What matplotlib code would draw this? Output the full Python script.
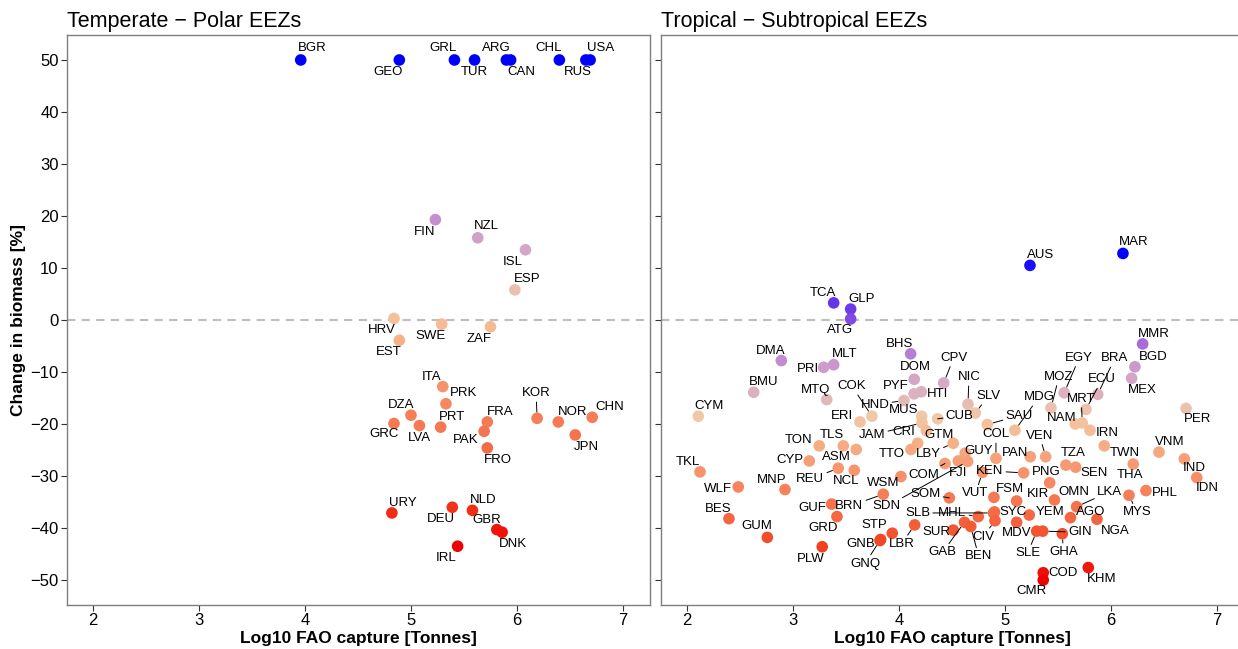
import numpy as np
import matplotlib
matplotlib.use("Agg")
import matplotlib.pyplot as plt
from matplotlib.colors import LinearSegmentedColormap, Normalize

plt.rcParams["font.family"] = ["Liberation Sans", "DejaVu Sans"]

# ---- temperate / polar EEZs ----
tp_code = ["BGR", "GEO", "GRL", "TUR", "ARG", "CAN", "CHL", "RUS", "USA",
           "FIN", "NZL", "ISL", "ESP", "HRV", "SWE", "ZAF", "EST",
           "ITA", "PRK", "DZA", "GRC", "LVA", "PRT", "FRA", "PAK", "FRO",
           "KOR", "NOR", "CHN", "JPN",
           "URY", "DEU", "NLD", "GBR", "DNK", "IRL"]
tp_capture = [3.96, 4.89, 5.41, 5.60, 5.90, 5.94, 6.40, 6.65, 6.69,
              5.23, 5.63, 6.08, 5.98, 4.84, 5.29, 5.75, 4.89,
              5.30, 5.33, 5.00, 4.84, 5.08, 5.28, 5.72, 5.69, 5.72,
              6.19, 6.39, 6.71, 6.55,
              4.82, 5.39, 5.58, 5.81, 5.86, 5.44]
tp_change = [50.0, 50.0, 50.0, 50.0, 50.0, 50.0, 50.0, 50.0, 50.0,
             19.3, 15.8, 13.5, 5.8, 0.3, -0.8, -1.3, -3.9,
             -12.8, -16.1, -18.3, -19.9, -20.3, -20.6, -19.6, -21.4, -24.6,
             -18.9, -19.6, -18.7, -22.1,
             -37.1, -36.0, -36.6, -40.3, -40.8, -43.5]

# ---- tropical / subtropical EEZs ----
tr_code = ["AUS", "MAR", "TCA", "GLP", "ATG", "MMR", "BGD", "MEX", "BHS", "DMA",
           "MLT", "PRI", "BMU", "MTQ", "CYM", "DOM", "PYF", "HTI", "HND", "COK",
           "ERI", "CPV", "NIC", "SLV", "CUB", "MUS", "JAM", "CRI", "GTM", "TTO",
           "LBY", "GUY", "FJI", "SDN", "COM", "KEN", "VUT", "PAN", "VEN", "COL",
           "SAU", "MDG", "EGY", "MOZ", "BRA", "ECU", "MRT", "NAM", "IRN", "PER",
           "TWN", "VNM", "IND", "IDN", "THA", "TZA", "SEN", "PNG", "FSM", "KIR",
           "OMN", "LKA", "MYS", "PHL", "AGO", "NGA", "YEM", "SYC", "SLB", "MHL",
           "CIV", "MDV", "SUR", "GAB", "BEN", "SLE", "GIN", "GHA", "COD", "CMR",
           "KHM", "SOM", "WSM", "BRN", "GUF", "GRD", "STP", "LBR", "GNB", "GNQ",
           "PLW", "GUM", "BES", "WLF", "TKL", "MNP", "CYP", "TON", "TLS", "ASM",
           "REU", "NCL"]
tr_capture = [5.236, 6.113, 3.384, 3.544, 3.544, 6.299, 6.226, 6.195, 4.110, 2.890,
              3.384, 3.290, 2.629, 3.318, 2.107, 4.144, 4.142, 4.210, 4.047, 3.745,
              3.632, 4.422, 4.651, 4.720, 4.365, 4.214, 4.217, 4.176, 4.258, 4.113,
              4.512, 4.625, 4.560, 4.648, 4.434, 5.176, 4.788, 5.239, 5.384, 4.915,
              4.833, 5.094, 5.559, 5.434, 5.875, 5.764, 5.729, 5.663, 5.802, 6.708,
              5.937, 6.453, 6.692, 6.809, 6.210, 5.575, 5.667, 5.422, 4.896, 5.110,
              5.467, 5.676, 6.170, 6.330, 5.618, 5.868, 5.229, 4.901, 4.892, 4.748,
              4.906, 5.110, 4.512, 4.618, 4.677, 5.299, 5.356, 5.541, 5.361, 5.361,
              5.786, 4.475, 4.019, 3.852, 3.365, 3.415, 3.937, 4.148, 3.827, 3.821,
              3.276, 2.758, 2.396, 2.484, 2.123, 2.925, 3.154, 3.248, 3.475, 3.597,
              3.427, 3.578]
tr_change = [10.5, 12.8, 3.3, 2.1, 0.2, -4.6, -9.0, -11.2, -6.5, -7.8,
             -8.6, -9.1, -13.9, -15.3, -18.5, -11.4, -14.2, -13.8, -15.5, -18.5,
             -19.6, -12.1, -16.2, -17.9, -19.0, -18.5, -19.8, -23.7, -21.3, -24.9,
             -23.7, -25.6, -27.1, -27.2, -27.6, -29.4, -29.3, -26.3, -26.3, -26.6,
             -20.1, -21.2, -14.0, -16.9, -14.3, -17.2, -19.8, -20.0, -21.2, -17.0,
             -24.2, -25.4, -26.7, -30.3, -27.7, -27.9, -28.3, -31.3, -34.1, -34.8,
             -34.6, -35.9, -33.7, -32.8, -38.0, -38.3, -37.5, -36.9, -37.1, -37.8,
             -38.6, -38.9, -40.4, -38.9, -39.7, -40.6, -40.6, -41.1, -48.6, -50.0,
             -47.6, -34.2, -30.1, -33.5, -35.4, -37.8, -41.0, -39.4, -42.2, -42.4,
             -43.6, -41.8, -38.2, -32.1, -29.2, -32.6, -27.1, -24.2, -24.2, -24.9,
             -28.5, -28.9]

# label placement: pixel offset of each label from its point (right, down)
LABEL_OFF = {
    "BGR": (12, -12), "GEO": (-11, 12), "GRL": (-11, -12), "TUR": (0, 12),
    "ARG": (-10, -12), "CAN": (11, 12), "CHL": (-11, -12), "RUS": (-8, 12),
    "USA": (11, -12), "FIN": (-11, 12), "NZL": (9, -12), "ISL": (-13, 12),
    "ESP": (12, -11), "HRV": (-12, 12), "SWE": (-11, 12), "ZAF": (-11, 12),
    "EST": (-11, 12), "ITA": (-11, -10), "PRK": (18, -11), "DZA": (-10, -10),
    "GRC": (-10, 11), "LVA": (0, 12), "PRT": (11, -10), "FRA": (13, -10),
    "PAK": (-18, 9), "FRO": (11, 12), "KOR": (-1, -25), "NOR": (14, -10),
    "CHN": (18, -10), "JPN": (11, 12), "URY": (11, -10), "DEU": (-11, 12),
    "NLD": (11, -10), "GBR": (-10, -10), "DNK": (11, 12), "IRL": (-11, 12),
    "AUS": (11, -10), "MAR": (11, -11), "TCA": (-11, -10), "GLP": (11, -10),
    "ATG": (-11, 11), "MMR": (11, -10), "BGD": (18, -10), "MEX": (11, 12),
    "BHS": (-11, -10), "DMA": (-11, -10), "MLT": (11, -11), "PRI": (-16, 2),
    "BMU": (10, -10), "MTQ": (-11, -10), "CYM": (11, -10), "DOM": (1, -12),
    "PYF": (-18, -8), "HTI": (16, 2), "HND": (-29, 4), "COK": (-20, -30),
    "ERI": (-18, -6), "CPV": (10, -25), "NIC": (1, -27), "SLV": (13, -17),
    "CUB": (22, -3), "MUS": (-18, -6), "JAM": (-50, 12), "CRI": (-14, -11),
    "GTM": (13, 4), "TTO": (-19, 5), "LBY": (-25, 11), "GUY": (13, -2),
    "FJI": (0, 12), "SDN": (-81, 45), "COM": (-21, 11), "KEN": (-34, -2),
    "VUT": (-7, 21), "PAN": (-15, -4), "VEN": (-6, -21), "COL": (0, -24),
    "SAU": (32, -9), "MDG": (24, -33), "EGY": (15, -35), "MOZ": (8, -31),
    "BRA": (17, -36), "ECU": (16, -30), "MRT": (-1, -24), "NAM": (-14, -6),
    "IRN": (17, 3), "PER": (12, 11), "TWN": (21, 7), "VNM": (11, -10),
    "IND": (10, 9), "IDN": (11, 10), "THA": (-3, 11), "TZA": (7, -12),
    "SEN": (18, 6), "PNG": (-3, -11), "FSM": (16, -8), "KIR": (21, -7),
    "OMN": (19, -8), "LKA": (33, -15), "MYS": (8, 17), "PHL": (19, 2),
    "AGO": (20, -6), "NGA": (18, 12), "YEM": (21, -3), "SYC": (19, 0),
    "SLB": (-76, 0), "MHL": (-26, -4), "CIV": (-12, 16), "MDV": (0, 11),
    "SUR": (-17, 2), "GAB": (-22, 30), "BEN": (8, 30), "SLE": (-9, 22),
    "GIN": (37, 1), "GHA": (1, 18), "COD": (20, 0), "CMR": (-12, 11),
    "KHM": (13, 11), "SOM": (-24, -4), "WSM": (-18, 6), "BRN": (-34, 12),
    "GUF": (-19, 4), "GRD": (-14, 11), "STP": (-18, -8), "LBR": (-13, 19),
    "GNB": (-20, 5), "GNQ": (-15, 23), "PLW": (-11, 12), "GUM": (-11, -11),
    "BES": (-11, -10), "WLF": (-20, 2), "TKL": (-12, -10), "MNP": (-13, -10),
    "CYP": (-19, -1), "TON": (-21, -6), "TLS": (-11, -11), "ASM": (-20, 8),
    "REU": (-28, 11), "NCL": (-8, 11),
}

# red -> peach -> purple -> blue, stretched over each panel's own range
CMAP = LinearSegmentedColormap.from_list("biomass", [
    (0.00, "#F00000"), (0.10, "#F2401F"), (0.20, "#F46A45"), (0.33, "#F7936C"),
    (0.42, "#F6B088"), (0.50, "#F2C9A6"), (0.57, "#DDB2BD"), (0.65, "#CE9DCB"),
    (0.70, "#B47AD6"), (0.75, "#9B5EDC"), (0.82, "#7440E6"), (0.90, "#4B26F0"),
    (1.00, "#0000FF")])

W, H = 1238, 649
fig = plt.figure(figsize=(W / 100, H / 100), dpi=100)
ax_l = fig.add_axes([67 / W, 44 / H, 583 / W, 570 / H])
ax_r = fig.add_axes([661 / W, 44 / H, 583 / W, 570 / H])


def label_gap(dx, dy):
    # rough distance between a 3-letter label box and its point, in pixels
    return np.hypot(max(abs(dx) - 14, 0), max(abs(dy) - 7, 0))


def panel(ax, codes, cap, chg, title, ylabels):
    norm = Normalize(min(chg), max(chg))
    ax.axhline(0, color="#BDBDBD", ls=(0, (4, 3)), lw=1.5, zorder=1)
    ax.scatter(cap, chg, s=70, c=[CMAP(norm(v)) for v in chg], edgecolors="none", zorder=3)
    for code, x, y in zip(codes, cap, chg):
        dx, dy = LABEL_OFF[code]
        arrow = None
        if label_gap(dx, dy) > 7.5:
            arrow = dict(arrowstyle="-", color="black", lw=0.7, shrinkA=0, shrinkB=4.5)
        ax.annotate(code, (x, y), xytext=(dx, -dy), textcoords="offset pixels",
                    ha="center", va="center", fontsize=9.5, color="black",
                    arrowprops=arrow, zorder=4)
    ax.set_xlim(1.755, 7.255)
    ax.set_ylim(-54.8, 54.8)
    ax.set_xticks([2, 3, 4, 5, 6, 7])
    ax.set_yticks(np.arange(-50, 51, 10))
    if not ylabels:
        ax.set_yticklabels([])
    ax.tick_params(length=4, pad=2, color="#333333", labelsize=12, labelcolor="black")
    for s in ax.spines.values():
        s.set_color("#7F7F7F")
        s.set_linewidth(1.0)
    ax.set_title(title, loc="left", fontsize=15.5, pad=6)
    ax.set_xlabel("Log10 FAO capture [Tonnes]", fontsize=12.5, fontweight="bold", labelpad=2)


panel(ax_l, tp_code, tp_capture, tp_change, "Temperate \u2212 Polar EEZs", True)
panel(ax_r, tr_code, tr_capture, tr_change, "Tropical \u2212 Subtropical EEZs", False)
ax_l.set_ylabel("Change in biomass [%]", fontsize=12.5, fontweight="bold", labelpad=3)

fig.savefig("out.png", dpi=100)
